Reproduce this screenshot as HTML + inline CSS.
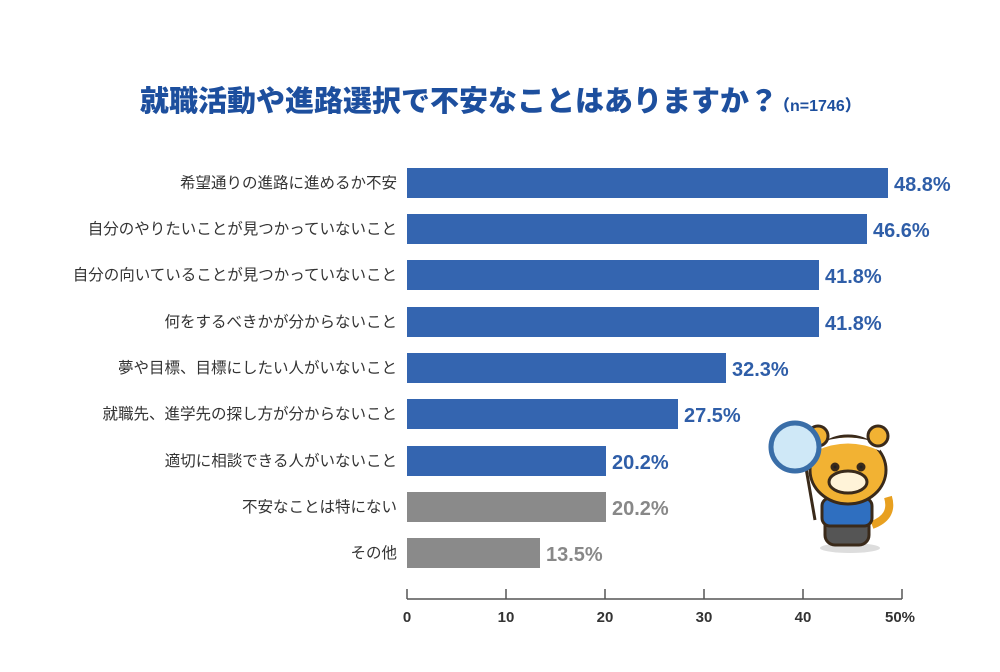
<!DOCTYPE html>
<html><head><meta charset="utf-8"><style>
body{margin:0;background:#fff;}
svg text{font-family:"Liberation Sans","Noto Sans CJK JP",sans-serif;}
</style></head><body>
<svg width="1000" height="667" viewBox="0 0 1000 667" xmlns="http://www.w3.org/2000/svg">
<rect width="1000" height="667" fill="#fff"/>
<text x="140" y="111" font-size="29" font-weight="900" fill="#1d4f9e" font-family="Noto Sans CJK JP">就職活動や進路選択で不安なことはありますか？<tspan font-size="16" dx="-4">（n=1746）</tspan></text>
<g font-size="15.5" fill="#333" text-anchor="end" font-family="Noto Sans CJK JP">
<text x="397" y="188">希望通りの進路に進めるか不安</text>
<text x="397" y="234">自分のやりたいことが見つかっていないこと</text>
<text x="397" y="280">自分の向いていることが見つかっていないこと</text>
<text x="397" y="327">何をするべきかが分からないこと</text>
<text x="397" y="373">夢や目標、目標にしたい人がいないこと</text>
<text x="397" y="419">就職先、進学先の探し方が分からないこと</text>
<text x="397" y="466">適切に相談できる人がいないこと</text>
<text x="397" y="512">不安なことは特にない</text>
<text x="397" y="558">その他</text>
</g>
<g fill="#3465b0">
<rect x="407" y="168" width="481" height="30"/>
<rect x="407" y="214" width="460" height="30"/>
<rect x="407" y="260" width="412" height="30"/>
<rect x="407" y="307" width="412" height="30"/>
<rect x="407" y="353" width="319" height="30"/>
<rect x="407" y="399" width="271" height="30"/>
<rect x="407" y="446" width="199" height="30"/>
</g>
<g fill="#8a8a8a">
<rect x="407" y="492" width="199" height="30"/>
<rect x="407" y="538" width="133" height="30"/>
</g>
<g font-size="20" font-weight="bold" fill="#2f5ea8">
<text x="894" y="191">48.8%</text>
<text x="873" y="237">46.6%</text>
<text x="825" y="283">41.8%</text>
<text x="825" y="330">41.8%</text>
<text x="732" y="376">32.3%</text>
<text x="684" y="422">27.5%</text>
<text x="612" y="469">20.2%</text>
<text x="612" y="515" fill="#888">20.2%</text>
<text x="546" y="561" fill="#888">13.5%</text>
</g>
<g stroke="#555" stroke-width="1.5" fill="none">
<line x1="407" y1="599" x2="902" y2="599"/>
<line x1="407" y1="589" x2="407" y2="599"/>
<line x1="506" y1="589" x2="506" y2="599"/>
<line x1="605" y1="589" x2="605" y2="599"/>
<line x1="704" y1="589" x2="704" y2="599"/>
<line x1="803" y1="589" x2="803" y2="599"/>
<line x1="902" y1="589" x2="902" y2="599"/>
</g>
<g font-size="15" font-weight="bold" fill="#333" text-anchor="middle">
<text x="407" y="622">0</text><text x="506" y="622">10</text><text x="605" y="622">20</text>
<text x="704" y="622">30</text><text x="803" y="622">40</text><text x="900" y="622">50%</text>
</g>
<!-- mascot -->
<g stroke="#3a2a1a" stroke-width="3">
<ellipse cx="850" cy="548" rx="30" ry="5" fill="#ddd" stroke="none"/>
<path d="M872 525 q22 -8 16 -28" fill="none" stroke="#e8a020" stroke-width="8"/>
<rect x="825" y="505" width="44" height="40" rx="10" fill="#555"/>
<rect x="822" y="498" width="50" height="28" rx="8" fill="#2f6fc0"/>
<ellipse cx="848" cy="470" rx="38" ry="34" fill="#f2b233"/>
<path d="M815 448 q33 -15 66 0" stroke="#fff" stroke-width="6" fill="none"/>
<circle cx="818" cy="436" r="10" fill="#f2b233"/>
<circle cx="878" cy="436" r="10" fill="#f2b233"/>
<ellipse cx="848" cy="482" rx="19" ry="11" fill="#fff3d8"/>
<circle cx="835" cy="467" r="3" fill="#222"/>
<circle cx="861" cy="467" r="3" fill="#222"/>
<line x1="806" y1="468" x2="815" y2="520"/>
<circle cx="795" cy="447" r="24" fill="#cfe8f7" stroke="#3a6ea8" stroke-width="5"/>
</g>
</svg>
</body></html>
